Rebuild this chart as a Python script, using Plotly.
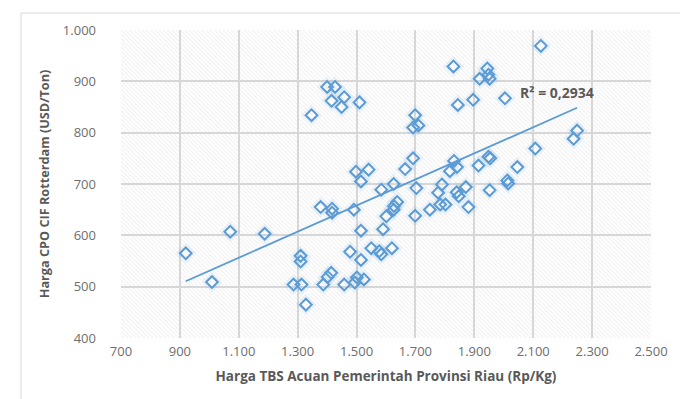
import numpy as np
import plotly.graph_objects as go

# Data
tbs_price = [920, 1009, 1071, 1188, 1286, 1313, 1310, 1310, 1328, 1347,
             1378, 1387, 1400, 1427, 1415, 1449, 1458, 1417, 1417, 1402,
             1414, 1458, 1478, 1491, 1498, 1515, 1510, 1515, 1515, 1494,
             1501, 1525, 1541, 1550, 1577, 1584, 1584, 1590, 1601, 1620,
             1626, 1626, 1627, 1638, 1665, 1692, 1692, 1699, 1710, 1699,
             1703, 1749, 1777, 1790, 1784, 1802, 1817, 1831, 1829, 1841,
             1844, 1840, 1847, 1871, 1880, 1896, 1918, 1914, 1944, 1948,
             1952, 1948, 1954, 1952, 2004, 2012, 2015, 2046, 2107, 2126,
             2237, 2249]
cpo_price = [565, 509, 607, 603, 504, 504, 560, 549, 465, 834,
             655, 504, 889, 889, 862, 850, 869, 652, 644, 519,
             527, 504, 568, 650, 724, 705, 859, 609, 552, 508,
             518, 514, 728, 575, 569, 563, 689, 612, 637, 575,
             700, 650, 657, 665, 729, 750, 810, 834, 814, 638,
             692, 650, 683, 699, 660, 660, 725, 745, 929, 733,
             854, 684, 676, 694, 655, 864, 905, 736, 925, 913,
             905, 753, 750, 688, 867, 707, 701, 733, 769, 969,
             788, 804]
x_ticks = [700, 900, 1100, 1300, 1500, 1700, 1900, 2100, 2300, 2500]
y_ticks = [400, 500, 600, 700, 800, 900, 1000]
r2_label = "R² = 0,2934"
x_title = "Harga TBS Acuan Pemerintah Provinsi Riau (Rp/Kg)"
y_title = "Harga CPO CIF Rotterdam (USD/Ton)"

x_range = [x_ticks[0], x_ticks[-1]]
y_range = [y_ticks[0], y_ticks[-1]]

xs = np.array(tbs_price, dtype=float)
ys = np.array(cpo_price, dtype=float)
slope, intercept = np.polyfit(xs, ys, 1)
fit_x = np.array([xs.min(), xs.max()])
fit_y = slope * fit_x + intercept

blue = "#5B9BD5"
gray_text = "#595959"
tick_gray = "#6E6E6E"

fig = go.Figure()

# hatched plot background
fig.add_trace(go.Scatter(
    x=[x_range[0], x_range[1], x_range[1], x_range[0], x_range[0]],
    y=[y_range[0], y_range[0], y_range[1], y_range[1], y_range[0]],
    mode="none", fill="toself", fillcolor="rgba(0,0,0,0)",
    fillpattern=dict(shape="\\", fgcolor="#DCDCDC", bgcolor="rgba(0,0,0,0)",
                     size=3, solidity=0.3),
    hoverinfo="skip", showlegend=False))

# soft glow around markers
fig.add_trace(go.Scatter(
    x=tbs_price, y=cpo_price, mode="markers",
    marker=dict(symbol="diamond-open", size=12, color="rgba(91,155,213,0.10)",
                line=dict(width=4, color="rgba(91,155,213,0.10)")),
    hoverinfo="skip", showlegend=False))

fig.add_trace(go.Scatter(
    x=tbs_price, y=cpo_price, mode="markers",
    marker=dict(symbol="diamond-open", size=9, color=blue,
                line=dict(width=2, color=blue)),
    showlegend=False))

fig.add_trace(go.Scatter(
    x=fit_x, y=fit_y, mode="lines",
    line=dict(color=blue, width=1.8), showlegend=False))

fig.add_annotation(x=2180, y=879, text="<b>" + r2_label + "</b>", showarrow=False,
                   font=dict(family="Open Sans", size=14, color=gray_text))

fig.add_shape(type="rect", xref="paper", yref="paper",
              x0=-0.1887, x1=1.0755, y0=-0.221, y1=1.055,
              line=dict(color="#D9D9D9", width=1))

fig.update_layout(
    width=688, height=399,
    margin=dict(l=113, r=45, t=22, b=69),
    paper_bgcolor="white", plot_bgcolor="white",
    separators=",.",
    font=dict(family="Open Sans", size=12, color=gray_text),
    xaxis=dict(range=x_range, tickvals=x_ticks, tickformat=",d",
               showgrid=True, gridcolor="#D6D6D6", gridwidth=1.8,
               zeroline=False, showline=False, ticks="",
               ticklabelstandoff=4,
               tickfont=dict(family="Open Sans", size=13, color=tick_gray),
               title=dict(text="<b>" + x_title + "</b>", standoff=12,
                          font=dict(family="Open Sans", size=13.5, color=gray_text))),
    yaxis=dict(range=y_range, tickvals=y_ticks, tickformat=",d",
               showgrid=True, gridcolor="#D6D6D6", gridwidth=1.8,
               zeroline=False, showline=False, ticks="",
               ticklabelstandoff=24,
               tickfont=dict(family="Open Sans", size=13, color=tick_gray),
               title=dict(text="<b>" + y_title + "</b>", standoff=10,
                          font=dict(family="Open Sans", size=12.7, color=gray_text))),
)

fig.write_html("out.html")
